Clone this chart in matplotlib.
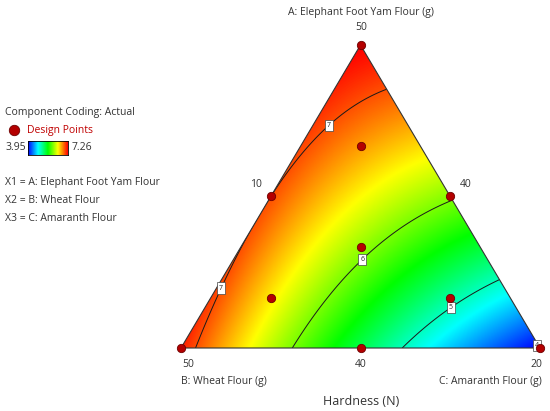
import numpy as np
import matplotlib
matplotlib.use("Agg")
import matplotlib.pyplot as plt
from matplotlib.colors import LinearSegmentedColormap
from matplotlib.patches import Polygon

plt.rcParams['font.family'] = ['Open Sans', 'DejaVu Sans']

# fitted mixture model in pseudo components (A, B, C)
coef_lin = [7.27, 7.16, 3.95]          # A, B, C
coef_ab, coef_ac, coef_bc = -0.86, 1.72, -0.77
coef_abc = -1.0
resp_min, resp_max = 3.95, 7.26
contour_levels = [4, 5, 6, 7]

# design points (pseudo fractions of A, B, C)
design_a = [1, 0, 0, 0.5, 0.5, 0, 1/3, 2/3, 1/6, 1/6]
design_b = [0, 1, 0, 0.5, 0, 0.5, 1/3, 1/6, 2/3, 1/6]
design_c = [0, 0, 1, 0, 0.5, 0.5, 1/3, 1/6, 1/6, 2/3]

top_label = "A: Elephant Foot Yam Flour (g)"
left_label = "B: Wheat Flour (g)"
right_label = "C: Amaranth Flour (g)"
a_high, c_low, b_low = "50", "10", "40"
b_high, a_low, c_high = "50", "40", "20"
legend_lines = ["X1 = A: Elephant Foot Yam Flour", "X2 = B: Wheat Flour", "X3 = C: Amaranth Flour"]

H = np.sqrt(3) / 2


def to_xy(a, b, c):
    a, b, c = np.asarray(a), np.asarray(b), np.asarray(c)
    return c + 0.5 * a, H * a


def model(a, b, c):
    return (coef_lin[0] * a + coef_lin[1] * b + coef_lin[2] * c
            + coef_ab * a * b + coef_ac * a * c + coef_bc * b * c
            + coef_abc * a * b * c)


W, Hpx = 550, 411
fig = plt.figure(figsize=(5.5, 4.11), dpi=100)
ax = fig.add_axes([0, 0, 1, 1])
ax.axis('off')

# pixel layout of the triangle
pxB, pxC, py_base, py_top = 181, 540, 348, 45
sx = pxC - pxB
sy = (py_base - py_top) / H

cmap = LinearSegmentedColormap.from_list(
    'de', ['#0000ff', '#00ffff', '#00ff00', '#ffff00', '#ff0000'])

n = 500
xs = np.linspace(0, 1, n)
ys = np.linspace(0, H, n)
X, Y = np.meshgrid(xs, ys)
A = Y / H
C = X - 0.5 * A
B = 1 - A - C
Z = model(A, B, C)

tri = Polygon([to_xy(0, 1, 0), to_xy(0, 0, 1), to_xy(1, 0, 0)], closed=True,
              fc='none', ec='#333333', lw=0.8, transform=ax.transData, zorder=4)
ax.add_patch(tri)

im = ax.imshow(Z, extent=(0, 1, 0, H), origin='lower', cmap=cmap,
               vmin=resp_min, vmax=resp_max, aspect='auto', interpolation='bilinear')
im.set_clip_path(tri)

cs = ax.contour(X, Y, Z, levels=contour_levels, colors='#1a1a1a', linewidths=0.7)
cs.set_clip_path(tri)
ax.set_xlim(-pxB / sx, (W - pxB) / sx)
ax.set_ylim(-(Hpx - py_base) / sy, py_base / sy)

label_spots = [to_xy(0.746, 0.224, 0.03), to_xy(0.2, 0.792, 0.008),
               to_xy(0.29, 0.348, 0.362), to_xy(0.142, 0.183, 0.675),
               to_xy(0.023, 0.005, 0.972)]
txts = ax.clabel(cs, manual=[tuple(p) for p in label_spots], inline=False,
                 fontsize=5, fmt='%d', colors='#222222')
for t in txts:
    t.set_bbox(dict(boxstyle='square,pad=0.3', fc='white', ec='#444444', lw=0.5))
    t.set_zorder(6)
    t.set_rotation(0)

dx, dy = to_xy(design_a, design_b, design_c)
ax.plot(dx, dy, 'o', ms=6, mfc='#b40000', mec='#6e0000', mew=0.6,
        ls='none', zorder=7, clip_on=False)


def ftext(x, y, s, **kw):
    fig.text(x / W, 1 - y / Hpx, s, **kw)


fs = 7.5
tc = '#333333'
ftext(361, 12, top_label, ha='center', va='center', fontsize=fs, color=tc)
ftext(361, 28, a_high, ha='center', va='center', fontsize=fs, color=tc)
ftext(256, 184, c_low, ha='center', va='center', fontsize=fs, color=tc)
ftext(466, 184, b_low, ha='center', va='center', fontsize=fs, color=tc)
ftext(188, 364, b_high, ha='center', va='center', fontsize=fs, color=tc)
ftext(361, 364, a_low, ha='center', va='center', fontsize=fs, color=tc)
ftext(536, 364, c_high, ha='center', va='center', fontsize=fs, color=tc)
ftext(181, 381, left_label, ha='left', va='center', fontsize=fs, color=tc)
ftext(542, 381, right_label, ha='right', va='center', fontsize=fs, color=tc)
ftext(361, 401, "Hardness (N)", ha='center', va='center', fontsize=9, color=tc)

ftext(5, 113, "Component Coding: Actual", ha='left', va='center', fontsize=fs, color=tc)
ax.plot([(14 - pxB) / sx], [(py_base - 130) / sy], 'o', ms=7.5, mfc='#b40000',
        mec='#6e0000', mew=0.6, clip_on=False)
ftext(27, 130, "Design Points", ha='left', va='center', fontsize=fs, color='#c00000')
ftext(5, 148, f"{resp_min:.2f}", ha='left', va='center', fontsize=fs, color=tc)
ftext(72, 148, f"{resp_max:.2f}", ha='left', va='center', fontsize=fs, color=tc)
cax = fig.add_axes([28 / W, 1 - 155 / Hpx, 40 / W, 14 / Hpx])
cax.imshow(np.linspace(0, 1, 200)[None, :], cmap=cmap, aspect='auto')
cax.set_xticks([])
cax.set_yticks([])
for s in cax.spines.values():
    s.set_linewidth(0.6)
for i, line in enumerate(legend_lines):
    ftext(5, 182 + 18 * i, line, ha='left', va='center', fontsize=fs, color=tc)

fig.savefig('out.png', dpi=100)
